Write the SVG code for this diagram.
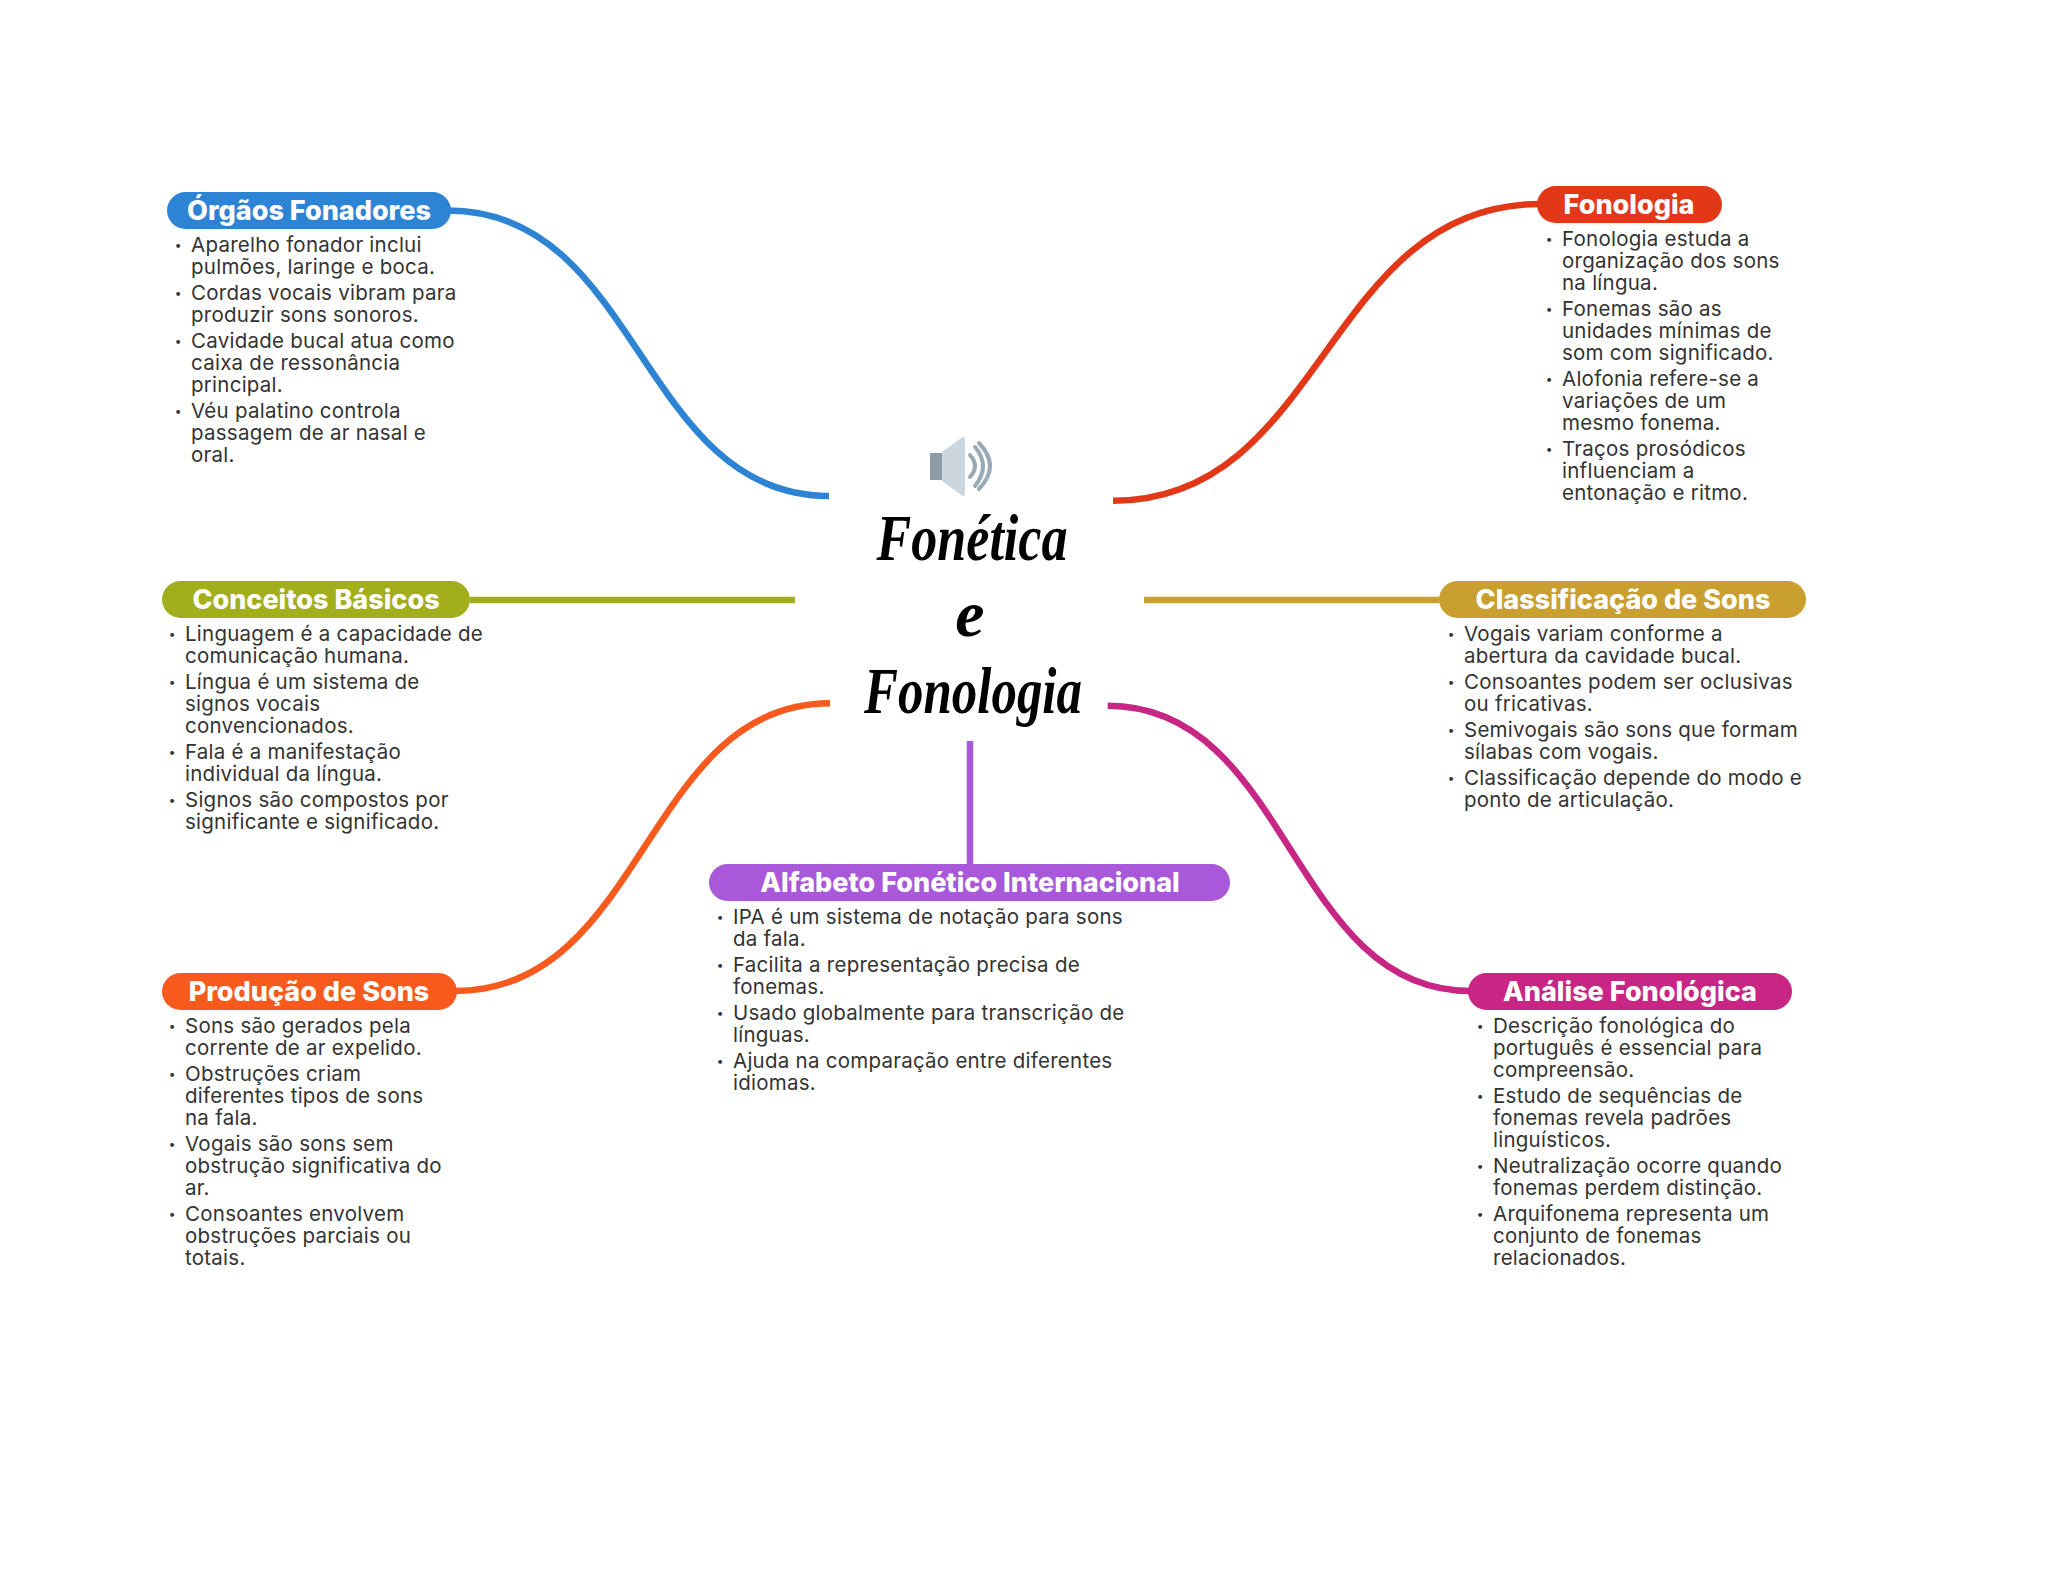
<svg xmlns="http://www.w3.org/2000/svg" width="2048" height="1569" viewBox="0 0 2048 1569">
<style>
.c{fill:none;stroke-width:6.5}
.h{font:800 27px Inter,"Liberation Sans",sans-serif;fill:#fff;text-anchor:middle}
.b{font:400 20.5px Inter,"Liberation Sans",sans-serif;letter-spacing:.25px;fill:#333}
.d{font:400 12px Inter,"Liberation Sans",sans-serif;fill:#333;text-anchor:middle;transform:translate(4px,-3px)}
.t{font:italic 700 66px "Liberation Serif",serif;fill:#000;text-anchor:middle}
</style>
<rect width="2048" height="1569" fill="#fff"/>
<g id="connectors">
<path class="c" stroke="#2E84D4" d="M448 210.5C640 210.500 640 496 829 496"/>
<path class="c" stroke="#E23818" d="M1540 204C1325 204 1325 500.700 1113 500.700"/>
<path class="c" stroke="#A3AE1C" d="M470 600H795"/>
<path class="c" stroke="#C9A02F" d="M1144 600H1439"/>
<path class="c" stroke="#F85A1E" d="M455 991C645 991 645 703.300 830 703.300"/>
<path class="c" stroke="#C72685" d="M1107.700 705.700C1290 705.700 1290 991 1470 991"/>
<path class="c" stroke="#A858D8" d="M970 741V864"/>
</g>
<g id="center">
<path fill="#8C9CA8" d="M930 453h14v27h-14z"/>
<path fill="#CBD6DE" stroke="#CBD6DE" stroke-width="4" stroke-linejoin="round" d="M944 453L963 439V494L944 480Z"/>
<path fill="none" stroke="#9AAAB5" stroke-width="4" stroke-linecap="round" d="M970 455Q980 466 970 477M975 447Q991 466 975 486M979 443Q1001 466 979 489"/>
<text class="t" x="972" y="560" textLength="191" lengthAdjust="spacingAndGlyphs">Fonética</text>
<text class="t" x="970" y="636">e</text>
<text class="t" x="973" y="713" textLength="218" lengthAdjust="spacingAndGlyphs">Fonologia</text>
</g>
<g id="orgaos">
<rect x="167" y="192" width="284" height="37" rx="18.5" fill="#2E84D4"/>
<text class="h" x="309" y="220">Órgãos Fonadores</text>
<text class="d" x="174" y="252">•</text><text class="b" x="191" y="252">Aparelho fonador inclui</text>
<text class="b" x="191" y="274">pulmões, laringe e boca.</text>
<text class="d" x="174" y="300">•</text><text class="b" x="191" y="300">Cordas vocais vibram para</text>
<text class="b" x="191" y="322">produzir sons sonoros.</text>
<text class="d" x="174" y="348">•</text><text class="b" x="191" y="348">Cavidade bucal atua como</text>
<text class="b" x="191" y="370">caixa de ressonância</text>
<text class="b" x="191" y="392">principal.</text>
<text class="d" x="174" y="418">•</text><text class="b" x="191" y="418">Véu palatino controla</text>
<text class="b" x="191" y="440">passagem de ar nasal e</text>
<text class="b" x="191" y="462">oral.</text>
</g>
<g id="fonologia">
<rect x="1537" y="186" width="185" height="37" rx="18.5" fill="#E23818"/>
<text class="h" x="1629" y="214">Fonologia</text>
<text class="d" x="1545" y="246">•</text><text class="b" x="1562" y="246">Fonologia estuda a</text>
<text class="b" x="1562" y="268">organização dos sons</text>
<text class="b" x="1562" y="290">na língua.</text>
<text class="d" x="1545" y="316">•</text><text class="b" x="1562" y="316">Fonemas são as</text>
<text class="b" x="1562" y="338">unidades mínimas de</text>
<text class="b" x="1562" y="360">som com significado.</text>
<text class="d" x="1545" y="386">•</text><text class="b" x="1562" y="386">Alofonia refere-se a</text>
<text class="b" x="1562" y="408">variações de um</text>
<text class="b" x="1562" y="430">mesmo fonema.</text>
<text class="d" x="1545" y="456">•</text><text class="b" x="1562" y="456">Traços prosódicos</text>
<text class="b" x="1562" y="478">influenciam a</text>
<text class="b" x="1562" y="500">entonação e ritmo.</text>
</g>
<g id="conceitos" transform="translate(0 1)">
<rect x="162" y="580" width="308" height="37" rx="18.500" fill="#A3AE1C"/>
<text class="h" x="316" y="608">Conceitos Básicos</text>
<text class="d" x="168" y="640">•</text><text class="b" x="185" y="640">Linguagem é a capacidade de</text>
<text class="b" x="185" y="662">comunicação humana.</text>
<text class="d" x="168" y="688">•</text><text class="b" x="185" y="688">Língua é um sistema de</text>
<text class="b" x="185" y="710">signos vocais</text>
<text class="b" x="185" y="732">convencionados.</text>
<text class="d" x="168" y="758">•</text><text class="b" x="185" y="758">Fala é a manifestação</text>
<text class="b" x="185" y="780">individual da língua.</text>
<text class="d" x="168" y="806">•</text><text class="b" x="185" y="806">Signos são compostos por</text>
<text class="b" x="185" y="828">significante e significado.</text>
</g>
<g id="classificacao" transform="translate(0 1)">
<rect x="1439" y="580" width="367" height="37" rx="18.500" fill="#C9A02F"/>
<text class="h" x="1623" y="608">Classificação de Sons</text>
<text class="d" x="1447" y="640">•</text><text class="b" x="1464" y="640">Vogais variam conforme a</text>
<text class="b" x="1464" y="662">abertura da cavidade bucal.</text>
<text class="d" x="1447" y="688">•</text><text class="b" x="1464" y="688">Consoantes podem ser oclusivas</text>
<text class="b" x="1464" y="710">ou fricativas.</text>
<text class="d" x="1447" y="736">•</text><text class="b" x="1464" y="736">Semivogais são sons que formam</text>
<text class="b" x="1464" y="758">sílabas com vogais.</text>
<text class="d" x="1447" y="784">•</text><text class="b" x="1464" y="784">Classificação depende do modo e</text>
<text class="b" x="1464" y="806">ponto de articulação.</text>
</g>
<g id="alfabeto" transform="translate(0 1)">
<rect x="709" y="863" width="521" height="37" rx="18.500" fill="#A858D8"/>
<text class="h" x="970" y="891">Alfabeto Fonético Internacional</text>
<text class="d" x="716" y="923">•</text><text class="b" x="733" y="923">IPA é um sistema de notação para sons</text>
<text class="b" x="733" y="945">da fala.</text>
<text class="d" x="716" y="971">•</text><text class="b" x="733" y="971">Facilita a representação precisa de</text>
<text class="b" x="733" y="993">fonemas.</text>
<text class="d" x="716" y="1019">•</text><text class="b" x="733" y="1019">Usado globalmente para transcrição de</text>
<text class="b" x="733" y="1041">línguas.</text>
<text class="d" x="716" y="1067">•</text><text class="b" x="733" y="1067">Ajuda na comparação entre diferentes</text>
<text class="b" x="733" y="1089">idiomas.</text>
</g>
<g id="producao" transform="translate(0 1)">
<rect x="162" y="972" width="295" height="37" rx="18.500" fill="#F85A1E"/>
<text class="h" x="309" y="1000">Produção de Sons</text>
<text class="d" x="168" y="1032">•</text><text class="b" x="185" y="1032">Sons são gerados pela</text>
<text class="b" x="185" y="1054">corrente de ar expelido.</text>
<text class="d" x="168" y="1080">•</text><text class="b" x="185" y="1080">Obstruções criam</text>
<text class="b" x="185" y="1102">diferentes tipos de sons</text>
<text class="b" x="185" y="1124">na fala.</text>
<text class="d" x="168" y="1150">•</text><text class="b" x="185" y="1150">Vogais são sons sem</text>
<text class="b" x="185" y="1172">obstrução significativa do</text>
<text class="b" x="185" y="1194">ar.</text>
<text class="d" x="168" y="1220">•</text><text class="b" x="185" y="1220">Consoantes envolvem</text>
<text class="b" x="185" y="1242">obstruções parciais ou</text>
<text class="b" x="185" y="1264">totais.</text>
</g>
<g id="analise" transform="translate(0 1)">
<rect x="1468" y="972" width="324" height="37" rx="18.500" fill="#C72685"/>
<text class="h" x="1630" y="1000">Análise Fonológica</text>
<text class="d" x="1476" y="1032">•</text><text class="b" x="1493" y="1032">Descrição fonológica do</text>
<text class="b" x="1493" y="1054">português é essencial para</text>
<text class="b" x="1493" y="1076">compreensão.</text>
<text class="d" x="1476" y="1102">•</text><text class="b" x="1493" y="1102">Estudo de sequências de</text>
<text class="b" x="1493" y="1124">fonemas revela padrões</text>
<text class="b" x="1493" y="1146">linguísticos.</text>
<text class="d" x="1476" y="1172">•</text><text class="b" x="1493" y="1172">Neutralização ocorre quando</text>
<text class="b" x="1493" y="1194">fonemas perdem distinção.</text>
<text class="d" x="1476" y="1220">•</text><text class="b" x="1493" y="1220">Arquifonema representa um</text>
<text class="b" x="1493" y="1242">conjunto de fonemas</text>
<text class="b" x="1493" y="1264">relacionados.</text>
</g>
</svg>
